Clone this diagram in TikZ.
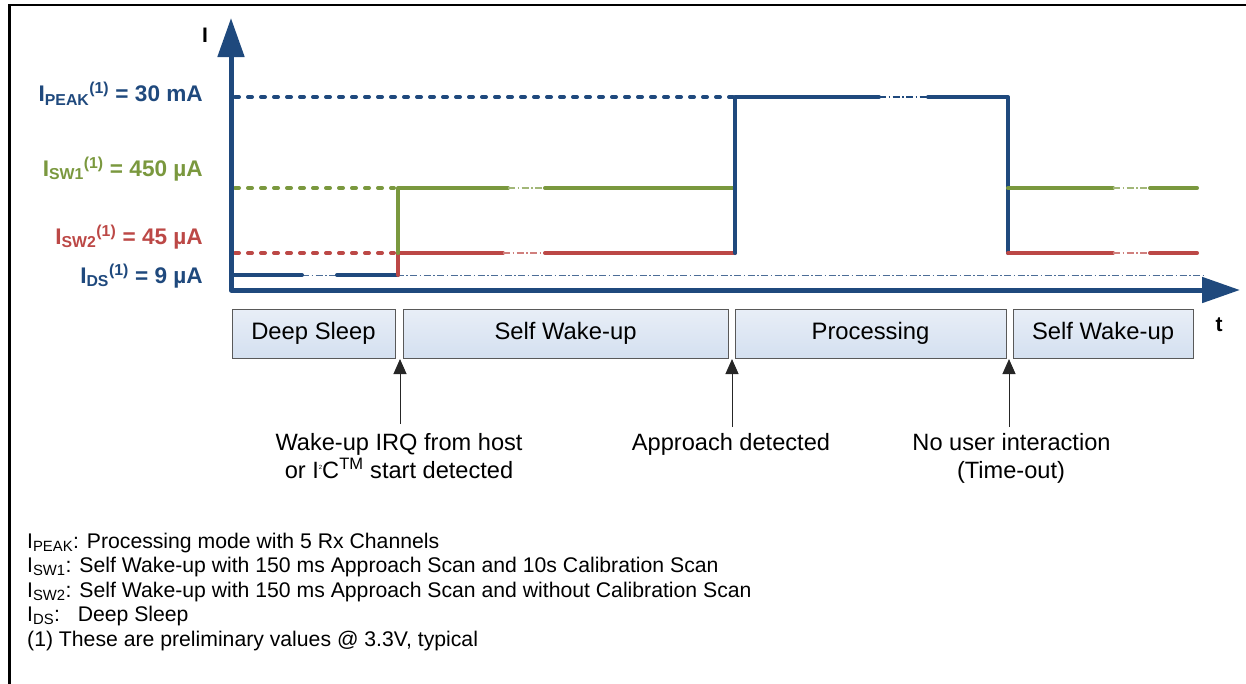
\documentclass[tikz,border=0pt]{standalone}
\usepackage{fontspec}
\setmainfont{Liberation Sans}
\usetikzlibrary{arrows.meta}
\definecolor{myblue}{RGB}{31,73,125}
\definecolor{mygreen}{RGB}{122,152,62}
\definecolor{myred}{RGB}{188,72,70}
\definecolor{boxtop}{RGB}{232,238,247}
\definecolor{boxbot}{RGB}{212,224,240}
\tikzset{
  sig/.style={line width=4pt, line cap=round, line join=round},
  lvldash/.style={line width=4pt, line cap=round, dash pattern=on 4pt off 9pt},
  brk/.style={line width=1.3pt, dash pattern=on 7pt off 2.5pt on 1.5pt off 2.5pt},
  statebox/.style={draw=black!65, line width=0.9pt, top color=boxtop, bottom color=boxbot,
    inner sep=0pt, minimum height=49pt, font=\fontsize{23.8}{28}\selectfont},
  evarrow/.style={-{Triangle[length=15pt,width=13pt]}, line width=1pt, draw=black!85},
  evtext/.style={anchor=base, inner sep=0pt, font=\fontsize{23.6}{28}\selectfont},
  lvl/.style={anchor=base east, inner sep=0pt, font=\bfseries\fontsize{22.6}{26}\selectfont},
  axlabel/.style={inner sep=0pt, font=\bfseries\fontsize{21}{25}\selectfont},
  fn/.style={anchor=base west, inner sep=0pt, font=\fontsize{21.2}{24}\selectfont},
}
\begin{document}
\begin{tikzpicture}[x=1pt,y=-1pt]
\useasboundingbox (0,0) rectangle (1246,683);
% frame
\draw[line width=2.5pt, black] (9.5,690) -- (9.5,5) -- (1250,5);

% thin dash-dot baseline at I_DS
\draw[brk, myblue!80] (302,275.5) -- (1205,275.5);

% level dashes
\draw[lvldash, myblue] (235,97) -- (733,97);
\draw[lvldash, mygreen] (235,188) -- (394,188);
\draw[lvldash, myred] (235,253) -- (394,253);

% deep sleep level
\draw[sig, myblue] (231,275) -- (302,275);
\draw[sig, myblue] (337,275) -- (398,275);

% self wake-up 1
\draw[sig, myred] (398,275) -- (398,253) -- (503,253);
\draw[brk, myred!70] (503,253) -- (545,253);
\draw[sig, myred] (545,253) -- (735,253);
\draw[sig, mygreen] (398,253) -- (398,188) -- (508,188);
\draw[brk, mygreen!70] (508,188) -- (545,188);
\draw[sig, mygreen] (545,188) -- (735,188);

% processing
\draw[sig, myblue] (735,253) -- (735,97) -- (879,97);
\draw[brk, myblue] (879,97) -- (928,97);
\draw[sig, myblue] (928,97) -- (1008,97) -- (1008,253);

% self wake-up 2
\draw[sig, mygreen] (1008,188) -- (1113,188);
\draw[brk, mygreen!70] (1113,188) -- (1150,188);
\draw[sig, mygreen] (1150,188) -- (1197,188);
\draw[sig, myred] (1008,253) -- (1113,253);
\draw[brk, myred!70] (1113,253) -- (1150,253);
\draw[sig, myred] (1150,253) -- (1197,253);

% axes
\coordinate (ytip) at (231,18);
\coordinate (orig) at (231,290);
\coordinate (xtip) at (1240,290);
\draw[myblue, line width=5pt, line join=round,
  {Triangle[length=39pt,width=26pt]}-{Triangle[length=38pt,width=25pt]}] (ytip) -- (orig) -- (xtip);
\node[axlabel, anchor=base] (ilab) at (205,42.5) {I};
\node[axlabel] (tlab) at (1219,325) {t};

% level labels
\node[lvl, text=myblue] (lpeak) at (203,101.5) {I\textsubscript{PEAK}\textsuperscript{(1)} = 30 mA};
\node[lvl, text=mygreen] (lsw1) at (203,176) {I\textsubscript{SW1}\textsuperscript{(1)} = 450 µA};
\node[lvl, text=myred] (lsw2) at (203,244) {I\textsubscript{SW2}\textsuperscript{(1)} = 45 µA};
\node[lvl, text=myblue] (lds) at (203,283) {I\textsubscript{DS}\textsuperscript{(1)} = 9 µA};

% state boxes
\node[statebox, minimum width=163pt] (b1) at (313.5,333.5) {Deep Sleep};
\node[statebox, minimum width=325pt] (b2) at (565.5,333.5) {Self Wake-up};
\node[statebox, minimum width=271pt] (b3) at (870.5,333.5) {Processing};
\node[statebox, minimum width=180pt] (b4) at (1103,333.5) {Self Wake-up};

% events
\coordinate (e1b) at (400,424); \coordinate (e1t) at (400,359);
\coordinate (e2b) at (732,427); \coordinate (e2t) at (732,359);
\coordinate (e3b) at (1009,427); \coordinate (e3t) at (1009,359);
\draw[evarrow] (e1b) -- (e1t);
\draw[evarrow] (e2b) -- (e2t);
\draw[evarrow] (e3b) -- (e3t);
\node[evtext] (ev1a) at (399,450) {Wake-up IRQ from host};
\node[evtext] (ev1b) at (399,478.5) {or I\raisebox{0.75ex}{\fontsize{6}{6}\selectfont 2}C\textsuperscript{TM} start detected};
\node[evtext] (ev2) at (731,450) {Approach detected};
\node[evtext] (ev3a) at (1011.5,450) {No user interaction};
\node[evtext] (ev3b) at (1011,478.5) {(Time-out)};

% footnotes
\node[fn] (fn1) at (27,548) {I\textsubscript{PEAK}: Processing mode with 5 Rx Channels};
\node[fn] (fn2) at (27,572.5) {I\textsubscript{SW1}: Self Wake-up with 150 ms Approach Scan and 10s Calibration Scan};
\node[fn] (fn3) at (27,597) {I\textsubscript{SW2}: Self Wake-up with 150 ms Approach Scan and without Calibration Scan};
\node[fn] (fn4) at (27,621.5) {I\textsubscript{DS}:\ \ \ Deep Sleep};
\node[fn] (fn5) at (27,646) {(1) These are preliminary values @ 3.3V, typical};
\end{tikzpicture}
\end{document}
